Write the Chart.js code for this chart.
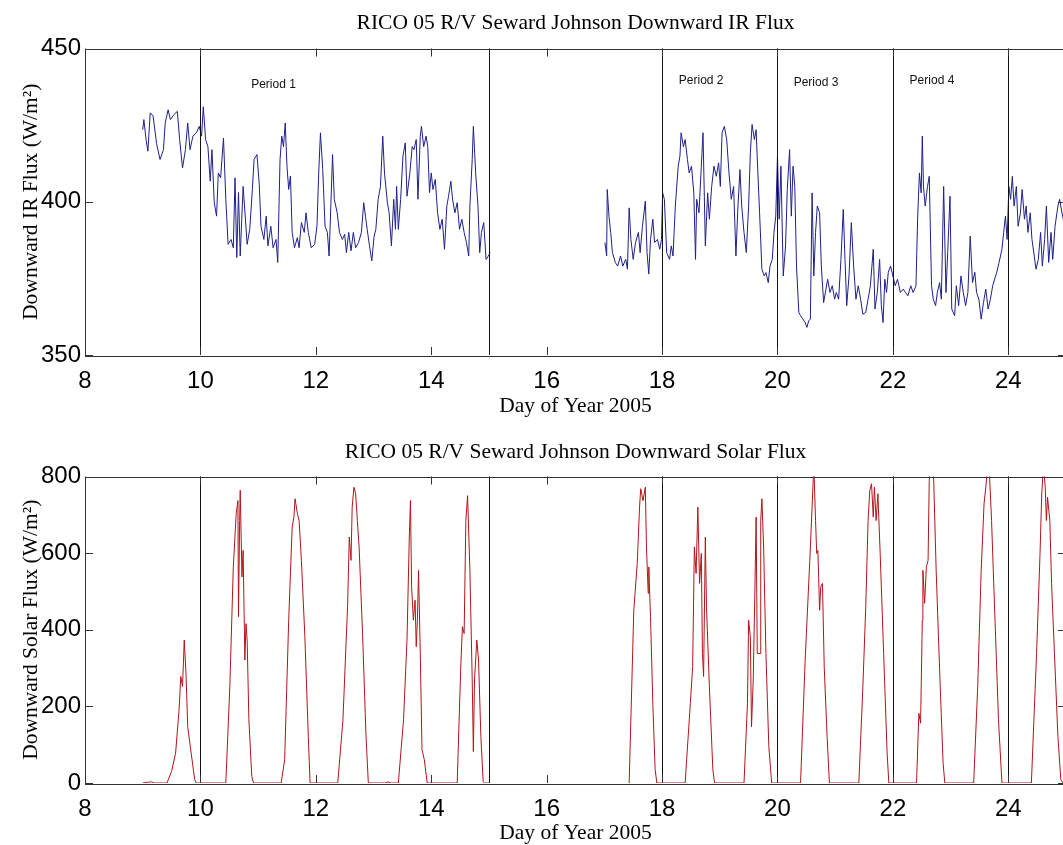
<!DOCTYPE html>
<html>
<head>
<meta charset="utf-8">
<script src="https://cdn.jsdelivr.net/npm/chart.js@4.4.1/dist/chart.umd.min.js"></script>
<style>
    html, body { margin: 0; padding: 0; background: #fff; overflow: hidden; }
    body { width: 1063px; height: 845px; position: relative; }
    .panel { position: absolute; left: 0; }
    #panel-ir { top: 0; }
    #panel-solar { top: 420px; }
</style>
</head>
<body>
<div class="panel" id="panel-ir"><canvas id="ir-chart" width="1070" height="420"></canvas></div>
<div class="panel" id="panel-solar"><canvas id="solar-chart" width="1070" height="432"></canvas></div>
<script>
// day of year 2005 and downward IR flux (W/m2), null = gap in the record
const irDay = [
    9.00, 9.02, 9.06, 9.09, 9.13, 9.18, 9.24, 9.30, 9.36, 9.39, 9.44, 9.48, 9.54, 9.60, 9.64, 9.69, 9.74, 9.78, 9.82, 9.87, 9.93, 9.98,
    10.02, 10.05, 10.09, 10.13, 10.17, 10.20, 10.24, 10.28, 10.31, 10.35, 10.40, 10.44, 10.48, 10.53, 10.57, 10.60, 10.63, 10.66, 10.69, 10.74, 10.78, 10.81, 10.855, 10.90, 10.93, 10.98,
    11.02, 11.05, 11.10, 11.14, 11.17, 11.22, 11.26, 11.31, 11.34, 11.38, 11.41, 11.44, 11.47, 11.50, 11.53, 11.56, 11.59, 11.63, 11.68, 11.71, 11.75, 11.80, 11.83, 11.87, 11.92, 11.98,
    12.02, 12.05, 12.08, 12.12, 12.16, 12.20, 12.23, 12.26, 12.29, 12.32, 12.37, 12.41, 12.46, 12.50, 12.53, 12.57, 12.61, 12.65, 12.69, 12.74, 12.79, 12.83, 12.86, 12.89, 12.93, 12.97,
    13.01, 13.04, 13.08, 13.12, 13.16, 13.19, 13.24, 13.27, 13.31, 13.35, 13.38, 13.40, 13.43, 13.47, 13.51, 13.55, 13.58, 13.63, 13.67, 13.70, 13.74, 13.77, 13.81, 13.83, 13.87, 13.91, 13.94, 13.97,
    14.00, 14.03, 14.07, 14.11, 14.15, 14.19, 14.23, 14.27, 14.30, 14.34, 14.37, 14.41, 14.45, 14.49, 14.53, 14.57, 14.61, 14.65, 14.67, 14.71, 14.73, 14.77, 14.81, 14.84, 14.87, 14.91, 14.95, 14.99,
    15.02, 16.00,
    17.01, 17.04, 17.05, 17.08, 17.11, 17.14, 17.19, 17.23, 17.28, 17.32, 17.37, 17.40, 17.43, 17.46, 17.50, 17.54, 17.59, 17.62, 17.66, 17.71, 17.74, 17.77, 17.80, 17.84, 17.87, 17.92, 17.96, 17.99,
    18.01, 18.04, 18.08, 18.13, 18.16, 18.19, 18.23, 18.28, 18.31, 18.33, 18.37, 18.40, 18.44, 18.47, 18.51, 18.55, 18.58, 18.60, 18.64, 18.68, 18.71, 18.75, 18.79, 18.82, 18.86, 18.90, 18.94, 18.98,
    19.01, 19.04, 19.08, 19.12, 19.16, 19.20, 19.24, 19.28, 19.31, 19.35, 19.38, 19.42, 19.46, 19.50, 19.53, 19.56, 19.60, 19.63, 19.66, 19.69, 19.73, 19.77, 19.80, 19.84, 19.87, 19.91, 19.94, 19.97,
    20.00, 20.03, 20.06, 20.10, 20.14, 20.17, 20.21, 20.24, 20.27, 20.30, 20.33, 20.37, 20.40, 20.44, 20.48, 20.51, 20.54, 20.57, 20.60, 20.63, 20.66, 20.69, 20.73, 20.76, 20.80, 20.84, 20.87, 20.91, 20.95, 20.99,
    21.02, 21.06, 21.10, 21.14, 21.17, 21.20, 21.24, 21.28, 21.32, 21.36, 21.40, 21.44, 21.48, 21.53, 21.57, 21.61, 21.66, 21.69, 21.73, 21.77, 21.80, 21.83, 21.86, 21.89, 21.92, 21.96,
    22.00, 22.04, 22.08, 22.13, 22.18, 22.22, 22.26, 22.31, 22.35, 22.40, 22.43, 22.46, 22.49, 22.51, 22.53, 22.56, 22.60, 22.63, 22.67, 22.70, 22.74, 22.77, 22.81, 22.84, 22.88, 22.92, 22.95, 22.99,
    23.02, 23.07, 23.10, 23.14, 23.18, 23.22, 23.26, 23.30, 23.34, 23.38, 23.42, 23.45, 23.49, 23.53, 23.57, 23.61, 23.65, 23.69, 23.73, 23.80, 23.84, 23.89, 23.92, 23.95, 23.98,
    24.01, 24.04, 24.07, 24.10, 24.14, 24.17, 24.21, 24.24, 24.28, 24.31, 24.34, 24.38, 24.41, 24.45, 24.48, 24.52, 24.56, 24.59, 24.63, 24.66, 24.70, 24.74, 24.77, 24.81, 24.86, 24.89, 24.93, 24.98
];
const irFlux = [
    423.5, 426.8, 420.0, 416.5, 429.0, 428.0, 419.0, 413.8, 417.0, 425.7, 430.0, 426.8, 428.4, 429.5, 420.3, 411.0, 417.0, 425.7, 417.0, 421.4, 422.5, 424.6,
    421.4, 431.0, 420.3, 418.0, 406.7, 417.0, 399.7, 395.3, 409.4, 407.8, 420.8, 400.8, 386.1, 387.7, 385.0, 407.8, 381.8, 403.0, 382.3, 405.0, 394.3, 386.1, 391.0, 404.0, 413.8, 415.4,
    405.6, 392.0, 387.7, 395.3, 385.6, 392.0, 385.0, 387.7, 380.2, 413.8, 421.4, 418.0, 425.7, 411.6, 404.0, 408.4, 390.0, 385.0, 388.3, 385.0, 393.2, 390.0, 396.4, 390.0, 385.0, 386.1,
    392.0, 409.4, 422.5, 410.5, 392.0, 390.0, 382.3, 398.6, 415.4, 400.8, 396.4, 390.0, 387.7, 389.4, 383.4, 390.0, 384.0, 390.0, 385.0, 386.7, 390.0, 399.7, 395.3, 391.0, 385.6, 380.7,
    388.8, 391.0, 400.8, 405.0, 421.4, 409.4, 399.7, 396.4, 385.6, 400.8, 391.0, 405.0, 391.0, 400.8, 414.9, 419.2, 401.8, 409.4, 418.0, 417.0, 420.3, 400.8, 421.4, 424.6, 418.0, 421.4, 418.0, 403.0,
    409.4, 404.0, 407.3, 396.4, 391.0, 394.3, 384.5, 398.6, 401.8, 406.7, 400.8, 396.4, 399.7, 391.0, 394.3, 390.0, 386.7, 382.3, 398.6, 413.8, 424.6, 409.4, 398.6, 383.4, 390.0, 393.2, 381.2, 382.3,
    383.4, null,
    386.7, 382.3, 404.0, 395.3, 390.0, 383.4, 380.2, 379.0, 382.3, 379.0, 381.2, 378.0, 398.0, 387.7, 381.2, 386.7, 390.0, 383.4, 392.0, 400.2, 383.4, 376.4, 387.7, 394.3, 386.7, 387.7, 384.5, 387.7,
    402.9, 400.8, 383.4, 381.2, 385.6, 382.3, 398.6, 411.6, 414.9, 422.5, 418.0, 420.3, 413.8, 409.4, 411.6, 402.9, 381.2, 400.8, 396.4, 411.6, 422.5, 385.6, 402.9, 394.3, 405.0, 411.6, 408.3, 412.7,
    405.0, 422.5, 424.6, 420.3, 409.4, 400.8, 405.0, 382.3, 396.4, 410.5, 398.6, 390.0, 383.4, 398.6, 416.0, 425.2, 420.3, 423.5, 409.4, 396.4, 378.0, 375.8, 376.9, 373.6, 379.0, 381.2, 390.0, 395.3,
    414.9, 394.3, 411.6, 375.8, 385.6, 404.0, 417.0, 395.3, 411.6, 405.0, 379.0, 363.9, 362.8, 361.7, 360.6, 359.0, 361.1, 361.7, 402.9, 375.8, 390.0, 398.6, 396.4, 379.0, 367.1, 371.5, 374.7, 370.4, 372.6, 368.2,
    370.4, 368.2, 381.2, 397.5, 381.2, 366.1, 375.8, 393.2, 379.0, 368.2, 372.6, 368.2, 363.3, 363.9, 368.2, 372.6, 384.5, 365.0, 370.4, 381.2, 366.1, 360.6, 374.7, 370.4, 377.0, 379.0,
    375.8, 372.6, 374.7, 370.4, 371.5, 370.4, 369.3, 372.6, 370.4, 372.6, 395.3, 409.4, 402.9, 421.4, 405.0, 398.6, 405.0, 408.3, 372.6, 368.2, 366.1, 370.4, 373.6, 368.2, 405.0, 370.4, 383.4, 401.8,
    365.0, 362.8, 372.6, 366.1, 375.8, 370.4, 366.1, 370.4, 388.8, 373.6, 377.0, 370.4, 368.2, 361.7, 367.1, 371.5, 365.0, 368.2, 372.6, 377.0, 380.2, 384.5, 390.0, 395.3, 387.7,
    405.0, 400.8, 408.3, 398.6, 405.0, 392.0, 396.4, 404.0, 394.3, 398.6, 390.0, 396.4, 387.7, 382.3, 378.0, 381.2, 390.0, 379.0, 387.7, 398.6, 380.2, 390.0, 381.2, 392.0, 398.6, 400.8, 396.4, 392.0
];

// day of year 2005 and downward solar flux (W/m2)
const solarDay = [
    9.00, 9.10, 9.15, 9.20, 9.42, 9.50, 9.57, 9.63, 9.66, 9.69, 9.72, 9.75, 9.78, 9.84, 9.90, 9.93,
    10.44, 10.51, 10.57, 10.62, 10.65, 10.66, 10.68, 10.69, 10.72, 10.74, 10.77, 10.79, 10.81, 10.84, 10.89, 10.92,
    11.40, 11.46, 11.53, 11.59, 11.62, 11.64, 11.68, 11.71, 11.75, 11.81, 11.87, 11.90,
    12.38, 12.47, 12.55, 12.58, 12.61, 12.63, 12.66, 12.69, 12.72, 12.75, 12.81, 12.87, 12.91,
    13.20, 13.25, 13.30, 13.43, 13.52, 13.58, 13.62, 13.64, 13.66, 13.69, 13.72, 13.74, 13.76, 13.78, 13.81, 13.84, 13.88, 13.93,
    14.45, 14.51, 14.54, 14.57, 14.60, 14.63, 14.67, 14.71, 14.73, 14.75, 14.79, 14.82, 14.86, 14.90, 14.92, 15.00,
    16.00,
    17.43, 17.51, 17.57, 17.61, 17.63, 17.67, 17.71, 17.73, 17.76, 17.77, 17.80, 17.84, 17.88, 17.91,
    18.40, 18.49, 18.53, 18.56, 18.59, 18.62, 18.65, 18.68, 18.70, 18.72, 18.75, 18.77, 18.82, 18.88, 18.91,
    19.42, 19.48, 19.50, 19.53, 19.55, 19.58, 19.61, 19.63, 19.65, 19.70, 19.71, 19.73, 19.76, 19.80, 19.85, 19.90,
    20.40, 20.48, 20.56, 20.60, 20.63, 20.66, 20.68, 20.70, 20.73, 20.75, 20.78, 20.81, 20.86, 20.90,
    21.41, 21.48, 21.53, 21.57, 21.60, 21.63, 21.66, 21.68, 21.71, 21.74, 21.78, 21.84, 21.90, 21.93,
    22.41, 22.45, 22.48, 22.51, 22.52, 22.55, 22.58, 22.61, 22.63, 22.66, 22.70, 22.75, 22.81, 22.87, 22.90,
    23.40, 23.47, 23.53, 23.58, 23.61, 23.64, 23.67, 23.71, 23.77, 23.83, 23.89,
    24.40, 24.49, 24.55, 24.58, 24.61, 24.64, 24.66, 24.68, 24.72, 24.75, 24.80, 24.86, 24.91, 24.95, 25.00
];
const solarFlux = [
    0, 2, 3, 0, 0, 30, 78, 191, 278, 252, 373, 286, 147, 78, 9, 0,
    0, 252, 564, 703, 737, 434, 685, 764, 538, 607, 321, 416, 373, 165, 17, 0,
    0, 61, 425, 668, 694, 742, 703, 685, 581, 382, 121, 0,
    0, 165, 460, 642, 581, 720, 772, 755, 685, 616, 390, 121, 0,
    0, 3, 0, 0, 165, 373, 642, 737, 512, 425, 477, 356, 425, 555, 338, 87, 61, 0,
    0, 295, 408, 390, 685, 750, 555, 269, 82, 269, 373, 321, 121, 4, 0, 0,
    null,
    0, 451, 573, 720, 768, 737, 772, 616, 495, 564, 434, 208, 35, 0,
    0, 208, 304, 616, 547, 720, 521, 599, 338, 278, 642, 460, 252, 35, 0,
    0, 208, 425, 382, 147, 269, 512, 694, 338, 338, 685, 742, 616, 338, 95, 0,
    0, 321, 581, 720, 830, 685, 599, 607, 451, 512, 521, 304, 121, 0,
    0, 252, 460, 685, 764, 781, 694, 772, 685, 755, 599, 338, 78, 0,
    0, 182, 156, 425, 555, 469, 564, 581, 790, 830, 830, 555, 295, 52, 0,
    0, 252, 555, 729, 772, 820, 820, 685, 425, 165, 0,
    0, 338, 599, 755, 830, 772, 685, 746, 685, 521, 338, 121, 9, 0, 0
];

const xTickStep = 2;
const irTicks = [350, 400, 450];
const solarTicks = [0, 200, 400, 600, 800];
const periodDays = [10, 15, 18, 20, 22, 24];
const periodNames = ['Period 1', 'Period 2', 'Period 3', 'Period 4'];
const periodLabelDay = [10.88, 18.29, 20.28, 22.29];
const periodLabelFlux = [438.2, 439.6, 438.7, 439.6];

const serif = '"Liberation Serif", "Times New Roman", serif';
const sans = '"Liberation Sans", Arial, sans-serif';

const toPoints = (xs, ys) => xs.map((d, i) => ({ x: d, y: ys[i] }));

// matlab style box, inward tick marks, period separators and labels
const framePlugin = {
    id: 'frame',
    afterDatasetsDraw(chart, args, opts) {
        const { ctx, chartArea: a, scales: { x, y } } = chart;
        const line = (x1, y1, x2, y2) => {
            ctx.beginPath();
            ctx.moveTo(x1, y1);
            ctx.lineTo(x2, y2);
            ctx.stroke();
        };
        ctx.save();
        ctx.lineWidth = 1;
        ctx.strokeStyle = '#111';
        periodDays.forEach(d => {
            const px = Math.round(x.getPixelForValue(d)) + 0.5;
            line(px, a.top, px, a.bottom);
        });
        ctx.strokeStyle = '#333';
        ctx.strokeRect(Math.round(a.left) + 0.5, Math.round(a.top) + 0.5, Math.round(a.right - a.left), Math.round(a.bottom - a.top));
        x.ticks.forEach(t => {
            const px = Math.round(x.getPixelForValue(t.value)) + 0.5;
            line(px, a.bottom, px, a.bottom - 8);
            line(px, a.top, px, a.top + 8);
        });
        y.ticks.forEach(t => {
            const py = Math.round(y.getPixelForValue(t.value)) + 0.5;
            line(a.left, py, a.left + 8, py);
            line(a.right, py, a.right - 8, py);
        });
        if (opts.showLabels) {
            ctx.fillStyle = '#111';
            ctx.font = '12px ' + sans;
            ctx.textBaseline = 'middle';
            periodNames.forEach((name, i) => {
                ctx.fillText(name, x.getPixelForValue(periodLabelDay[i]), y.getPixelForValue(periodLabelFlux[i]));
            });
        }
        ctx.restore();
    }
};

const makeChart = (canvasId, cfg) => new Chart(document.getElementById(canvasId), {
    type: 'line',
    data: {
        datasets: [{
            data: cfg.points,
            borderColor: cfg.color,
            borderWidth: 1,
            pointRadius: 0,
            tension: 0,
            spanGaps: false
        }]
    },
    options: {
        responsive: false,
        animation: false,
        layout: { padding: { left: 0, right: 4, top: 0, bottom: 0 } },
        plugins: {
            legend: { display: false },
            tooltip: { enabled: false },
            title: {
                display: true,
                fullSize: false,
                text: cfg.title,
                color: '#000',
                font: { family: serif, size: 21.5, weight: 'normal', lineHeight: 1.2 },
                padding: cfg.titlePad
            },
            frame: { showLabels: cfg.showLabels }
        },
        scales: {
            x: {
                type: 'linear',
                min: 8,
                max: 25,
                grid: { display: false, drawTicks: false },
                border: { display: false },
                ticks: {
                    stepSize: xTickStep,
                    includeBounds: false,
                    maxRotation: 0,
                    autoSkip: false,
                    color: '#000',
                    padding: cfg.xTickPad,
                    font: { family: sans, size: 24 }
                },
                title: {
                    display: true,
                    text: 'Day of Year 2005',
                    color: '#000',
                    font: { family: serif, size: 21.5, lineHeight: 1.2 },
                    padding: { top: 0, bottom: cfg.xTitleBottom }
                },
                afterFit: s => { s.height = cfg.xHeight; }
            },
            y: {
                type: 'linear',
                min: cfg.yTicks[0],
                max: cfg.yTicks[cfg.yTicks.length - 1],
                grid: { display: false, drawTicks: false },
                border: { display: false },
                afterBuildTicks: s => { s.ticks = cfg.yTicks.map(v => ({ value: v })); },
                ticks: {
                    color: '#000',
                    padding: 4,
                    font: { family: sans, size: 24 }
                },
                title: {
                    display: true,
                    text: cfg.yTitle,
                    color: '#000',
                    font: { family: serif, size: 21.5, lineHeight: 1.2 },
                    padding: { top: 18, bottom: 0 }
                },
                afterFit: s => { s.width = 85; }
            }
        }
    },
    plugins: [framePlugin]
});

makeChart('ir-chart', {
    points: toPoints(irDay, irFlux),
    color: '#1f1f8a',
    title: 'RICO 05 R/V Seward Johnson Downward IR Flux',
    titlePad: { top: 10.4, bottom: 12.3 },
    yTitle: 'Downward IR Flux (W/m²)',
    yTicks: irTicks,
    xHeight: 65,
    xTickPad: 11.5,
    xTitleBottom: 1.2,
    showLabels: true
});

makeChart('solar-chart', {
    points: toPoints(solarDay, solarFlux),
    color: '#b3141a',
    title: 'RICO 05 R/V Seward Johnson Downward Solar Flux',
    titlePad: { top: 19.1, bottom: 11.6 },
    yTitle: 'Downward Solar Flux (W/m²)',
    yTicks: solarTicks,
    xHeight: 69,
    xTickPad: 12,
    xTitleBottom: 5.6,
    showLabels: false
});
</script>
</body>
</html>
